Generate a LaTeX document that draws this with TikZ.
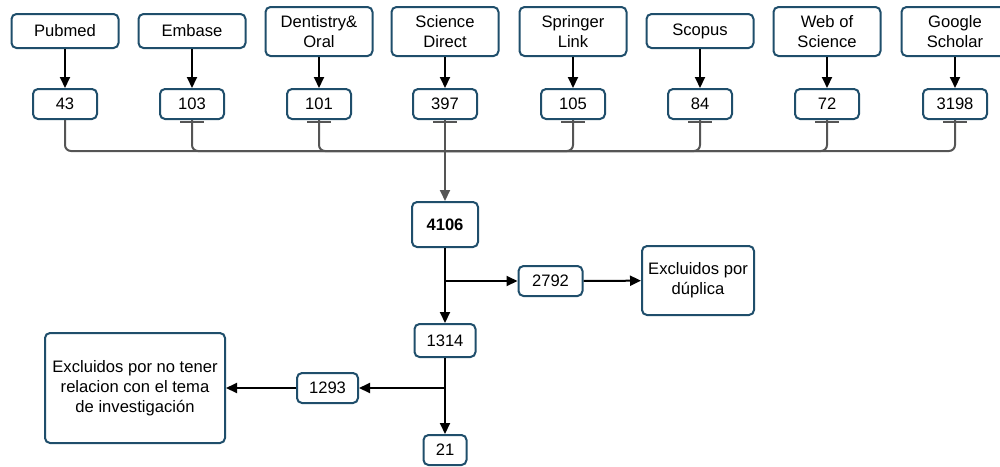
\documentclass[tikz,border=0pt]{standalone}
\usepackage{fontspec}
\setmainfont{Liberation Sans}
\usetikzlibrary{arrows.meta,positioning}

\definecolor{boxline}{HTML}{1F4E6B}
\definecolor{connline}{HTML}{555555}

\begin{document}
\begin{tikzpicture}[x=0.5pt,y=-0.5pt,
  font=\fontsize{8.3}{10}\selectfont,
  box/.style={draw=boxline,line width=1pt,rounded corners=2.5pt,fill=white,inner sep=0pt,align=center},
  src/.style={box,minimum width=53.5pt,minimum height=17pt},
  srcii/.style={box,minimum width=53.5pt,minimum height=24.5pt},
  count/.style={box,minimum width=32pt,minimum height=15pt},
  feed/.style={draw=connline,line width=1pt,rounded corners=3pt},
  flow/.style={draw=black,line width=1pt,-{Triangle[length=5.5pt,width=5pt]}},
  tickline/.style={draw=connline,line width=1pt}]
\clip (0,0) rectangle (1000,466);
% databases
\node[src] (pubmed) at (65,31) {Pubmed};
\node[src] (embase) at (192,31) {Embase};
\node[srcii] (dent) at (319,31.5) {Dentistry\&\\Oral};
\node[srcii] (sd) at (445,31.5) {Science\\Direct};
\node[srcii] (springer) at (573,31.5) {Springer\\Link};
\node[src] (scopus) at (700,31) {Scopus};
\node[srcii] (wos) at (827,31.5) {Web of\\Science};
\node[srcii] (gs) at (955,31.5) {Google\\Scholar};
% hits per database
\node[count] (n43) at (65,104) {43};
\node[count] (n103) at (192,104) {103};
\node[count] (n101) at (319,104) {101};
\node[count] (n397) at (445,104) {397};
\node[count] (n105) at (573,104) {105};
\node[count] (n84) at (700,104) {84};
\node[count] (n72) at (827,104) {72};
\node[count] (n3198) at (955,104) {3198};
\foreach \s/\n in {pubmed/n43,embase/n103,dent/n101,sd/n397,springer/n105,scopus/n84,wos/n72,gs/n3198}
  \draw[flow] (\s) -- (\n);
\foreach \n in {n103,n101,n397,n105,n84,n72,n3198}
  \draw[tickline] ([xshift=-6pt,yshift=-1.2pt]\n.south) -- ([xshift=6pt,yshift=-1.2pt]\n.south);
% screening
\node[box,minimum width=33pt,minimum height=22.5pt,font=\fontsize{8.3}{10}\selectfont\bfseries] (total) at (445,224.5) {4106};
\node[count] (dup) at (550.5,281) {2792};
\node[box,minimum width=56pt,minimum height=34.5pt] (dupnote) at (698,280.5) {Excluidos por\\dúplica};
\node[count,minimum width=30.5pt,minimum height=16.5pt] (screen) at (445,340.5) {1314};
\node[count,minimum width=30.5pt] (unrel) at (327.5,388) {1293};
\node[box,minimum width=90pt,minimum height=55pt] (unrelnote) at (135,388) {Excluidos por no tener\\relacion con el tema\\de investigación};
\node[box,minimum width=21.5pt,minimum height=15pt] (final) at (445,450) {21};
\coordinate (merge) at (445,151);
\foreach \n in {n43,n103,n101,n105,n84,n72,n3198}
  \draw[feed] (\n.south) |- (merge);
\draw[feed,-{Triangle[length=5.5pt,width=5pt]}] (n397.south) -- (total.north);
\coordinate (split1) at (445,281);
\coordinate (split2) at (445,388);
\draw[flow] (total) -- (screen);
\draw[flow] (split1) -- (dup);
\draw[flow] (dup) -- (dupnote);
\draw[flow] (screen) -- (final);
\draw[flow] (split2) -- (unrel);
\draw[flow] (unrel) -- (unrelnote);
\end{tikzpicture}
\end{document}
